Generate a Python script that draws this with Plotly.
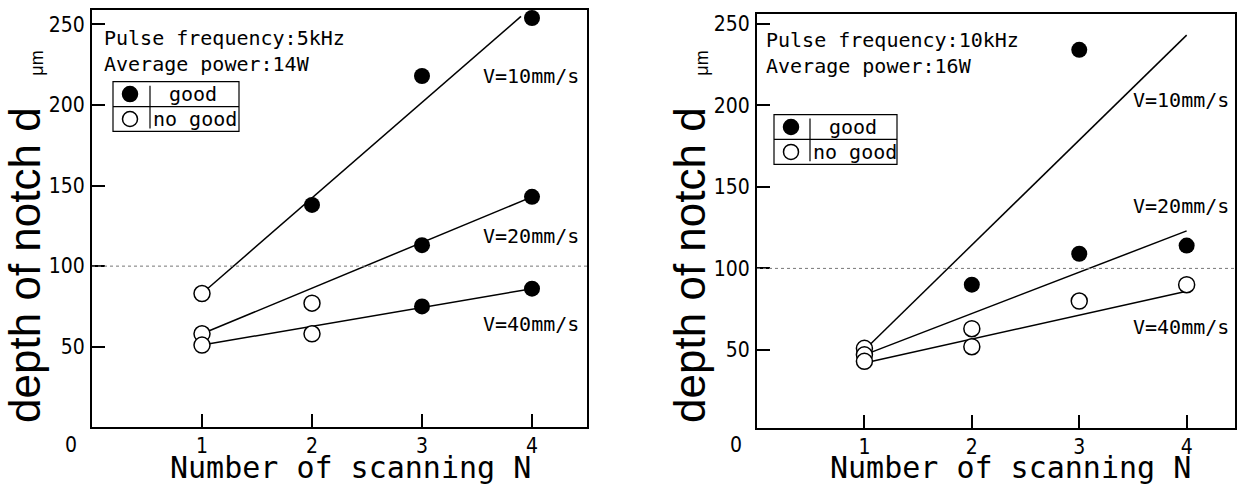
import plotly.graph_objects as go

# ---------------- data ----------------
tick_n = [1, 2, 3, 4]
tick_depth = [50, 100, 150, 200, 250]

# left panel: 5 kHz, 14 W
left_good_n = [2, 3, 4, 3, 4, 3, 4]
left_good_d = [138, 218, 254, 113, 143, 75, 86]
left_nogood_n = [1, 1, 1, 2, 2]
left_nogood_d = [83, 58, 51, 77, 58]
left_fit10_n = [1, 3.9]
left_fit10_d = [83, 255]
left_fit20_n = [1, 4]
left_fit20_d = [58, 143]
left_fit40_n = [1, 4]
left_fit40_d = [51, 86]

# right panel: 10 kHz, 16 W
right_good_n = [2, 3, 3, 4]
right_good_d = [90, 234, 109, 114]
right_nogood_n = [1, 1, 1, 2, 2, 3, 4]
right_nogood_d = [51, 47, 43, 63, 52, 80, 90]
right_fit10_n = [1, 4]
right_fit10_d = [50, 243]
right_fit20_n = [1, 4]
right_fit20_d = [47, 123]
right_fit40_n = [1, 4]
right_fit40_d = [42, 86]

good_limit = 100

# ---------------- figure ----------------
W, H = 1240, 486


def fx(p):
    return p / W


def fy(p):
    return 1 - p / H


MONO = "DejaVu Sans Mono, Liberation Mono, monospace"
NARROW = "Liberation Sans Narrow, DejaVu Sans Condensed, Arial Narrow, sans-serif"
SANS = "Liberation Sans, Arial, sans-serif"

fig = go.Figure()


def add_panel(xa, ya, fits, good, nogood):
    for fn, fd in fits:
        fig.add_trace(go.Scatter(x=fn, y=fd, mode="lines", xaxis=xa, yaxis=ya,
                                 line=dict(color="black", width=1.5),
                                 hoverinfo="skip"))
    fig.add_trace(go.Scatter(x=nogood[0], y=nogood[1], mode="markers", xaxis=xa, yaxis=ya,
                             marker=dict(symbol="circle", size=16, color="white",
                                         line=dict(color="black", width=1.5))))
    fig.add_trace(go.Scatter(x=good[0], y=good[1], mode="markers", xaxis=xa, yaxis=ya,
                             marker=dict(symbol="circle", size=16, color="black",
                                         line=dict(color="black", width=0))))


add_panel("x", "y",
          [(left_fit10_n, left_fit10_d), (left_fit20_n, left_fit20_d), (left_fit40_n, left_fit40_d)],
          (left_good_n, left_good_d), (left_nogood_n, left_nogood_d))
add_panel("x2", "y2",
          [(right_fit10_n, right_fit10_d), (right_fit20_n, right_fit20_d), (right_fit40_n, right_fit40_d)],
          (right_good_n, right_good_d), (right_nogood_n, right_nogood_d))

axis_common = dict(showline=True, mirror=True, linecolor="black", linewidth=2,
                   ticks="inside", ticklen=13, tickwidth=1.5, tickcolor="black",
                   showgrid=False, zeroline=False,
                   tickfont=dict(family=NARROW, size=21, color="black"))

fig.update_layout(
    width=W, height=H,
    margin=dict(l=0, r=0, t=0, b=0),
    paper_bgcolor="white", plot_bgcolor="white",
    showlegend=False, hovermode=False,
    xaxis=dict(domain=[fx(92), fx(587)], range=[0, 4.5], tickvals=tick_n,
               ticklabelstandoff=-1, anchor="y", **axis_common),
    yaxis=dict(domain=[fy(427), fy(8)], range=[0, 259], tickvals=tick_depth,
               ticklabelstandoff=1, anchor="x", **axis_common),
    xaxis2=dict(domain=[fx(757), fx(1235)], range=[0, 4.45], tickvals=tick_n,
                ticklabelstandoff=-1, anchor="y2", **axis_common),
    yaxis2=dict(domain=[fy(428), fy(12)], range=[2, 256], tickvals=tick_depth,
                ticklabelstandoff=1, anchor="x2", **axis_common),
)

shapes = []
annotations = []

# dotted 100 um reference line
for xa, ya in (("x", "y"), ("x2", "y2")):
    shapes.append(dict(type="line", xref=xa + " domain", yref=ya, x0=0, x1=1,
                       y0=good_limit, y1=good_limit,
                       line=dict(color="#777777", width=1, dash="dot")))


def text(x, y, s, size=20, family=MONO, xanchor="left", angle=0):
    annotations.append(dict(x=fx(x), y=fy(y), xref="paper", yref="paper", text=s,
                            showarrow=False, xanchor=xanchor, yanchor="middle",
                            textangle=angle,
                            font=dict(family=family, size=size, color="black")))


def legend_box(x0, x1, y0, y1, sep, cx, tgood, tno):
    ym = (y0 + y1) / 2
    shapes.append(dict(type="rect", xref="paper", yref="paper",
                       x0=fx(x0), x1=fx(x1), y0=fy(y0), y1=fy(y1),
                       line=dict(color="black", width=1.2), fillcolor="white", layer="above"))
    shapes.append(dict(type="line", xref="paper", yref="paper",
                       x0=fx(x0), x1=fx(x1), y0=fy(ym), y1=fy(ym),
                       line=dict(color="black", width=1.2), layer="above"))
    shapes.append(dict(type="line", xref="paper", yref="paper",
                       x0=fx(sep), x1=fx(sep), y0=fy(y0 + 4), y1=fy(y1 - 3),
                       line=dict(color="black", width=1.2), layer="above"))
    for yc, fill in (((y0 + ym) / 2, "black"), ((ym + y1) / 2, "white")):
        shapes.append(dict(type="circle", xref="paper", yref="paper",
                           xsizemode="pixel", ysizemode="pixel",
                           xanchor=fx(cx), yanchor=fy(yc),
                           x0=-7.5, x1=7.5, y0=-7.5, y1=7.5,
                           fillcolor=fill, line=dict(color="black", width=1.5),
                           layer="above"))
    text(tgood, (y0 + ym) / 2, "good")
    text(tno, (ym + y1) / 2, "no good")


# left panel texts
text(102, 36, "Pulse frequency:5kHz")
text(102, 62, "Average power:14W")
legend_box(113, 239, 80, 130, 150, 130, 167, 151)
text(581, 74, "V=10mm/s", xanchor="right")
text(581, 235, "V=20mm/s", xanchor="right")
text(581, 323, "V=40mm/s", xanchor="right")

# right panel texts
text(764, 38, "Pulse frequency:10kHz")
text(764, 64, "Average power:16W")
legend_box(774, 897, 113, 163, 810, 791, 827, 811)
text(1231, 98, "V=10mm/s", xanchor="right")
text(1231, 205, "V=20mm/s", xanchor="right")
text(1231, 326, "V=40mm/s", xanchor="right")

# axis titles and origin labels
for off in (0, 665):
    text(25 + off, 264, "depth of notch d", size=44, family=SANS, xanchor="center", angle=-90)
    text(37 + off, 62, "μm", size=18, family=SANS, xanchor="center", angle=-90)
for xc, axis_x in ((350, 92), (1010, 757)):
    text(xc, 467, "Number of scanning N", size=30, xanchor="center")
    text(axis_x - 21, 445, "0", size=21, family=NARROW, xanchor="center")

fig.update_layout(shapes=shapes, annotations=annotations)

fig.write_html("out.html", config={"displayModeBar": False},
               post_script="document.body.style.margin='0';")
